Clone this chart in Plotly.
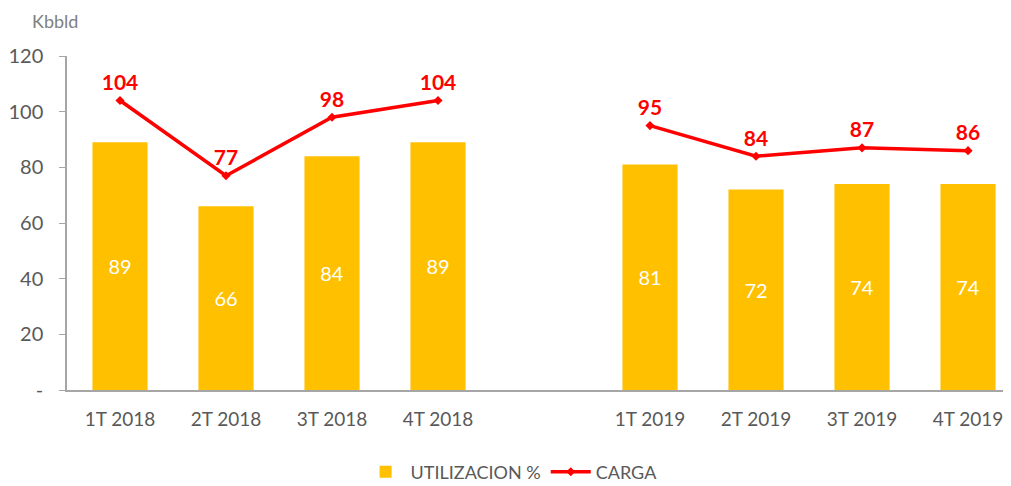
import plotly.graph_objects as go

categories = ["1T 2018", "2T 2018", "3T 2018", "4T 2018", " ", "1T 2019", "2T 2019", "3T 2019", "4T 2019"]
utilizacion = [89, 66, 84, 89, None, 81, 72, 74, 74]
carga = [104, 77, 98, 104, None, 95, 84, 87, 86]
y_ticks = [0, 20, 40, 60, 80, 100, 120]
y_ticktext = ["-", "20", "40", "60", "80", "100", "120"]

FONT = "Lato, Carlito, Calibri, sans-serif"
GRAY = "#595959"

fig = go.Figure()
fig.add_trace(go.Bar(
    x=categories, y=utilizacion, name="UTILIZACION %",
    marker=dict(color="#FFC000", line=dict(width=0)),
    text=[("" if v is None else str(v)) for v in utilizacion],
    textposition="inside", insidetextanchor="middle",
    textfont=dict(color="white", size=20, family=FONT),
    hoverinfo="skip",
))
fig.add_trace(go.Scatter(
    x=categories, y=carga, name="CARGA",
    mode="lines+markers+text",
    line=dict(color="#FF0000", width=3.5),
    marker=dict(color="#FF0000", symbol="diamond", size=7),
    text=[("" if v is None else str(v)) for v in carga],
    textposition="top center",
    textfont=dict(color="#FF0000", size=21, family=FONT, weight="bold"),
    connectgaps=False,
    hoverinfo="skip",
))

fig.update_layout(
    width=995, height=478,
    margin=dict(l=59, r=0, t=48, b=96, autoexpand=False),
    paper_bgcolor="white", plot_bgcolor="white",
    bargap=0.48,
    font=dict(family=FONT, color=GRAY, size=17),
    showlegend=True,
    legend=dict(orientation="h", x=0.475, xanchor="center", y=-0.2455, yanchor="middle",
                font=dict(size=18, color=GRAY, family=FONT), traceorder="normal",
                itemwidth=40),
    annotations=[dict(text="Kbbld", xref="paper", yref="paper", x=-0.0128, y=1.105,
                      xanchor="center", yanchor="middle", showarrow=False,
                      font=dict(size=18, color="#808080", family=FONT))],
)
fig.update_xaxes(
    type="category", range=[-0.5, 8.33], automargin=False,
    showline=True, linecolor="#A6A6A6", linewidth=1.5,
    showgrid=False, zeroline=False, ticks="",
    tickfont=dict(size=19, color=GRAY, family=FONT),
    ticklabelstandoff=11,
)
fig.update_yaxes(
    range=[0, 120], tickvals=y_ticks, ticktext=y_ticktext, automargin=False,
    showline=True, linecolor="#A6A6A6", linewidth=1.5,
    ticks="outside", ticklen=6, tickcolor="#A6A6A6",
    showgrid=False, zeroline=False,
    tickfont=dict(size=20, color=GRAY, family=FONT),
    ticklabelstandoff=12,
)

fig.write_html("out.html")
